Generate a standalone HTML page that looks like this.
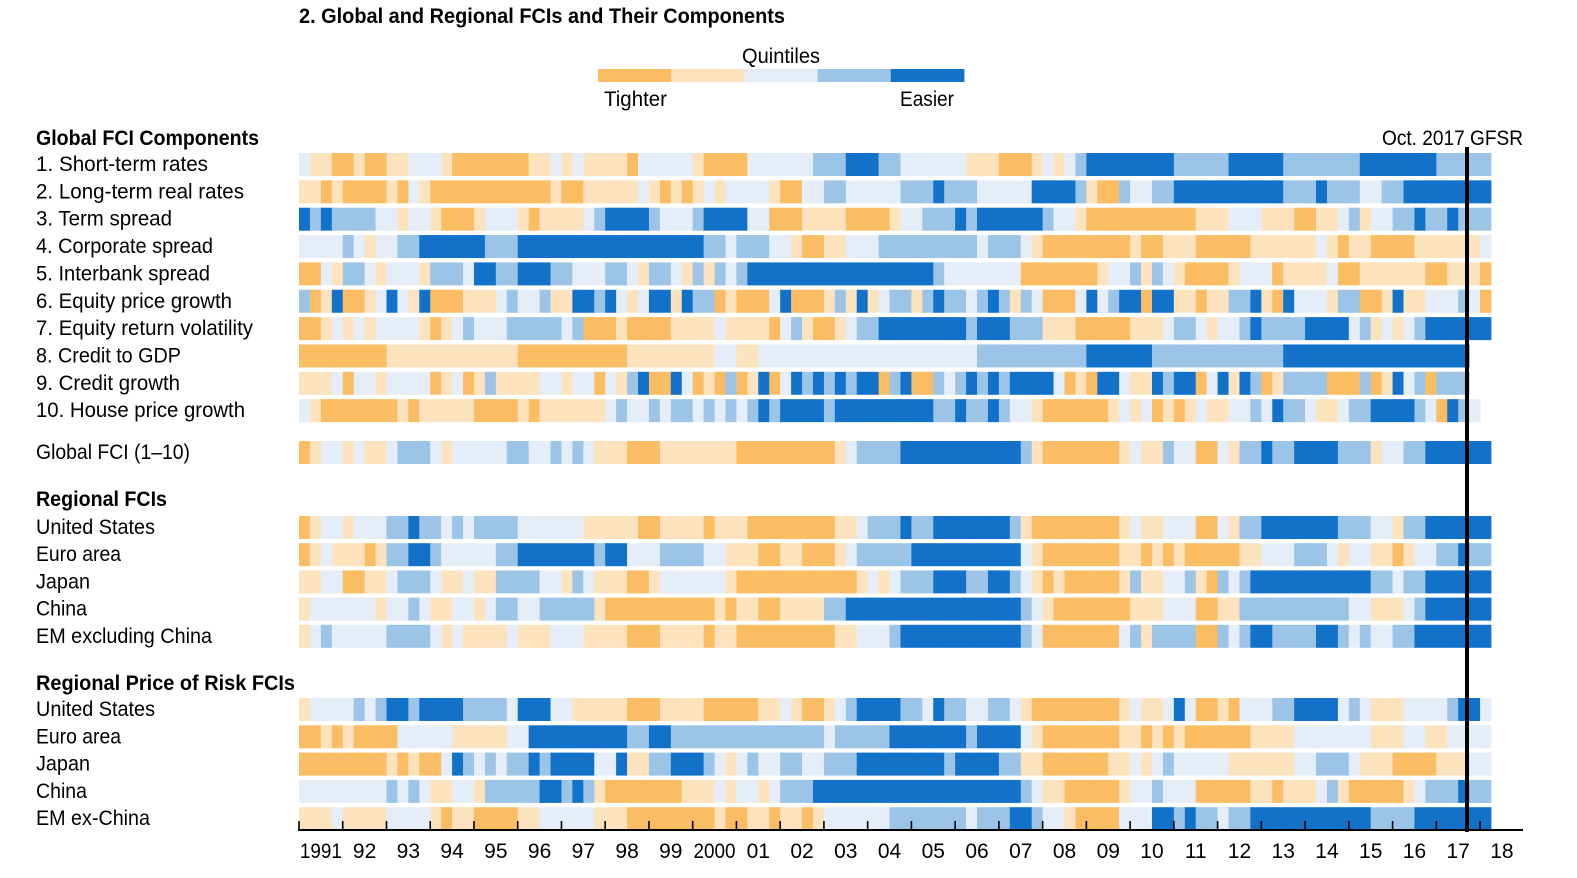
<!DOCTYPE html>
<html><head><meta charset="utf-8"><title>Global and Regional FCIs</title>
<style>
html,body{margin:0;padding:0;background:#fff;}
svg{display:block;font-family:"Liberation Sans",sans-serif;}
</style></head>
<body>
<svg id="chart" width="1577" height="878" viewBox="0 0 1577 878" xmlns="http://www.w3.org/2000/svg">
<text x="299" y="23" font-size="21" font-weight="bold" textLength="486" lengthAdjust="spacingAndGlyphs" fill="#000">2. Global and Regional FCIs and Their Components</text>
<g id="legend"></g>
<g id="cells"></g>
<g id="labels"></g>
<g id="axis"></g>
</svg>
<script>
const NS="http://www.w3.org/2000/svg";
// quintile colours 1=tighter ... 5=easier
const quintileColors=["#ffffff","#fbbd63","#fde3bd","#e5eef8","#9bc4e6","#1271c9"];
const legendLabels=["Tighter","Easier"];
const yearLabels=["1991","92","93","94","95","96","97","98","99","2000","01","02","03","04","05","06","07","08","09","10","11","12","13","14","15","16","17","18"];
const componentNames=["1. Short-term rates","2. Long-term real rates","3. Term spread","4. Corporate spread","5. Interbank spread","6. Equity price growth","7. Equity return volatility","8. Credit to GDP","9. Credit growth","10. House price growth"];
const globalName=["Global FCI (1\u201310)"];
const regionalNames=["United States","Euro area","Japan","China","EM excluding China"];
const riskNames=["United States","Euro area","Japan","China","EM ex-China"];
// quarterly quintile values 1991Q1.. (spaces are ignored)
const componentValues=[
"3 22 11 2 11 22 333 2 1111111 22 3 2 3 2222 1 33333 2 1111 333333 444 555 44 333333 222 111 2 3 2 3 4 55555555 44444 55555 4444444 5555555 44444",
"22 1 2 1111 2 1 3 2 11111111111 2 11 22222 3 2 1 2 1 2 3 2 3333 2 11 33 44 33333 444 5 444 33333 5555 4 2 11 4 33 44 5555555555 444 5 444 33 44 55555555",
"5 4 5 4444 33 2 33 2 111 2 333 2 1 2222 3 4 5555 4 333 4 5555 33 111 2222 1111 2 33 444 5 4 555555 4 33 2 1111111111 222 333 222 11 22 3 4 2 33 44 5 44 5 444",
"3333 4 3 2 33 44 555555 444 55555555555555555 44 3 444 33 2 11 22 333 44 4444444 3 444 3 2 11111111 2 11 222 11111 222222 3 2 1 22 1111 222222 3",
"11 3 2 44 3 2 333 2 444 3 55 44 555 44 333 44 3 2 44 3 2 4 2 4 3 4 55555555555555 555 4 3333333 1111111 2 33 4 2 4 3 2 1111 2 333 1 2222 3 11 222222 11 222 1",
"4 1 2 5 11 2 3 5 3 2 5 111 222 3 4 33 4 22 55 4 5 3 2 3 55 2 5 44 1 2 111 3 5 111 2 4 2 5 2 3 4 4 2 4 5 44 3 4 5 4 2 4 3 111 3 5 3 4 55 1 55 22 1 22 44 5 2 1 5 333 2 44 11 2 5 22 333 4 3 1",
"11 2 3 2 3 2 3333 2 1 2 3 4 333 44444 3 4 111 2 1111 2222 3 2222 1 3 4 2 11 2 3 44 55 555555 4 555 444 222 11111 222 3 44 3 2 33 4 5 4444 5555 3 4 2 3 2 3 4 555555",
"11111111 222222222222 1111111111 22222222 33 22 3333333333333 3333333 4444444444 555555 444444444444 55555555555555555 00",
"222 3 1 33 2 3333 1 2 3 1 2 4 2222 33 2 33 1 3 2 4 5 11 5 3 1 2 1 4 1 2 5 1 3 5 4 5 4 5 4 55 1 4 5 11 4 3 4 5 4 5 4 5555 3 1 2 1 55 3 22 5 4 55 1 3 5 2 5 4 1 2 4444 111 4 1 2 5 3 4 1 444 00",
"3 2 1111111 2 1 22222 1111 2 1 222222 3 4 33 4 3 44 3 4 3 4 3 4 5 4 5555 4 555555 555 44 5 44 5 4 33 2 111111 2 3 2 3 1 2 1 2 3 22 33 4 3 5 44 3 22 3 44 5555 4 3 1 5 4 3 0"
];
const globalValues=[
"1 2 33 2 3 22 3 444 3 2 33333 44 33 4 3 4 3 222 111 2222222 111111111 2 3 4444 55555555555 4 2 1111111 2 3 22 4 33 11 3 2 44 5 44 5555 444 2 33 44 555555"
];
const regionalValues=[
"1 2 33 2 333 44 5 44 3 4 3 4444 333333 22222 11 2222 1 222 11111111 22 3 444 5 44 5555555 4 2 11111111 2 3 22 333 11 3 2 44 5555555 444 33 2 44 555555",
"1 2 3 222 1 2 44 55 4 33333 44 5555555 4 55 333 4444 33 222 11 22 111 2 3 4444 4 5555555555 3 2 1111111 22 1 2 1 2 11111 22 333 444 3 2 33 22 1 2 33 44 5 44",
"22 33 11 22 3 444 3 22 3 22 4444 33 2 4 3 222 11 2 333333 2 11111111111 2 3 2 3 444 555 44 55 4 3 2 1 2 11111 2 4 22 33 4 2 1 4 3 4 55555555555 44 3 44 555555",
"2 333333 2 33 4 3 22 33 2 3 44 33 44444 2 1111111111 2 1 22 11 2222 44 55555 55555555555 4 3 2 1111111 222 333 11 22 4444444444 33 222 3 4 555555",
"2 3 4 33333 4444 3 2 3 2222 3 222 333 2222 111 2222 1 22 111111111 22 333 4 55555555555 4 3 1111111 3 4 2 4444 11 4 3 4 55 4444 55 4 3 4 33 44 5555555"
];
const riskValues=[
"2 3333 4 3 4 55 4 5555 4444 3 555 33 22222 111 2222 11111 22 3 2 11 2 3 4 5555 44 3 5 44 33 44 3 2 11111111 2 3 22 3 5 3 11 2 1 333 44 5555 3 4 3 222 3333 4 55 3",
"11 2 1 2 1111 33333 22222 33 555555555 44 55 44444444444444 3 44444 5 555555 4 5555 3 2 1111111 22 1 2 1 2 111111 2222 3333333 222 33 22 3333",
"11111111 2 1 2 11 3 5 4 3 4 3 44 5 4 5555 33 5 22 44 555 4 3 2 3 4 33 44 33 444 5555 5555 4 5555 44 22 111111 22 3 2 3 4 33333 222222 33 444 3 222 1111 222 33",
"33333333 4 3 4 3 22 33 2 44444 55 4 5 4 2 1111111 222 3 2 33 2 3 444 55555555 55555555555 4 3 22 11111 2 33 4 333 11111 22 1 222 3 4 2 11111 2 3 444 5 44",
"222 3 2222 3333 2 1 22 1111 22 33333 222 11111111 2 11 22 1 22 1 2 333333 4 444444 3 444 55 4 33 2 1111 333 55 4 5 44 3 44 55555555555 4444 5555555"
];
// label rendered widths (layout)
const componentLabelW=[172,208,136,177,174,196,217,145,144,209];
const regionalLabelW=[119,85,54,51,176];
const riskLabelW=[119,85,54,51,114];

const N=109, X0=299, X1=1491, CW=(X1-X0)/N, YEARW=CW*4, ROWH=23;
const xScale=q=>X0+q*CW;
function parse(s){const d=s.replace(/\s+/g,"").split("").map(Number);while(d.length<N)d.push(0);return d.slice(0,N);}
function mk(tag,attrs,parent){const e=document.createElementNS(NS,tag);for(const k in attrs)e.setAttribute(k,attrs[k]);parent.appendChild(e);return e;}

const cells=document.getElementById("cells"), labels=document.getElementById("labels");
function drawRow(name,str,top,lw){
  const vals=parse(str);
  const g=mk("g",{},cells);
  
  
  vals.forEach((v,q)=>{
    if(!v)return;
    const r=mk("rect",{x:xScale(q).toFixed(2),y:top,width:(CW+0.4).toFixed(2),height:ROWH,fill:quintileColors[v]},g);
    
    
  });
  const t=mk("text",{x:36,y:top+18,"font-size":21,fill:"#000"},labels);
  t.textContent=name;
  
  
  t.setAttribute("textLength",lw);
  t.setAttribute("lengthAdjust","spacingAndGlyphs");
}
componentNames.forEach((n,i)=>drawRow(n,componentValues[i],153+i*27.35,componentLabelW[i]));
drawRow(globalName[0],globalValues[0],441,154);
regionalNames.forEach((n,i)=>drawRow(n,regionalValues[i],516+i*27.2,regionalLabelW[i]));
riskNames.forEach((n,i)=>drawRow(n,riskValues[i],698+i*27.3,riskLabelW[i]));

// section headers
[["Global FCI Components",145,223,"global-components-header"],["Regional FCIs",506,131,"regional-header"],["Regional Price of Risk FCIs",690,259,"price-of-risk-header"]].forEach(h=>{
  const t=mk("text",{x:36,y:h[1],"font-size":21,"font-weight":"bold",textLength:h[2],lengthAdjust:"spacingAndGlyphs"},labels);
  t.textContent=h[0];
  
  
});

// legend
const lg=document.getElementById("legend");
for(let i=1;i<=5;i++){
  const r=mk("rect",{x:598+(i-1)*73.2,y:69,width:73.6,height:13,fill:quintileColors[i]},lg);
  
  
}
const lq=mk("text",{x:742,y:63,"font-size":21,textLength:78,lengthAdjust:"spacingAndGlyphs"},lg);
lq.textContent="Quintiles";


const lt=mk("text",{x:604,y:106,"font-size":21,textLength:63,lengthAdjust:"spacingAndGlyphs"},lg);
lt.textContent=legendLabels[0];


const le=mk("text",{x:900,y:106,"font-size":21,textLength:54,lengthAdjust:"spacingAndGlyphs"},lg);
le.textContent=legendLabels[1];



// axis
const ax=document.getElementById("axis");
const al=mk("line",{x1:298,y1:830,x2:1523,y2:830,stroke:"#000","stroke-width":2},ax);


yearLabels.forEach((lab,k)=>{
  const x=X0+k*YEARW;
  const tk=mk("line",{x1:x,y1:821,x2:x,y2:830,stroke:"#000","stroke-width":1.6},ax);
  
  
  const t=mk("text",{x:x+YEARW/2,y:858,"font-size":21,"text-anchor":"middle"},ax);
  t.textContent=lab;
  if(lab.length===4){t.setAttribute("textLength","42");t.setAttribute("lengthAdjust","spacingAndGlyphs");}
  
  
});
// GFSR marker
const vl=mk("rect",{x:1465,y:147,width:4,height:685,fill:"#000"},ax);


const vt=mk("text",{x:1382,y:145,"font-size":21,textLength:141,lengthAdjust:"spacingAndGlyphs"},ax);
vt.textContent="Oct. 2017 GFSR";


</script>
</body></html>
